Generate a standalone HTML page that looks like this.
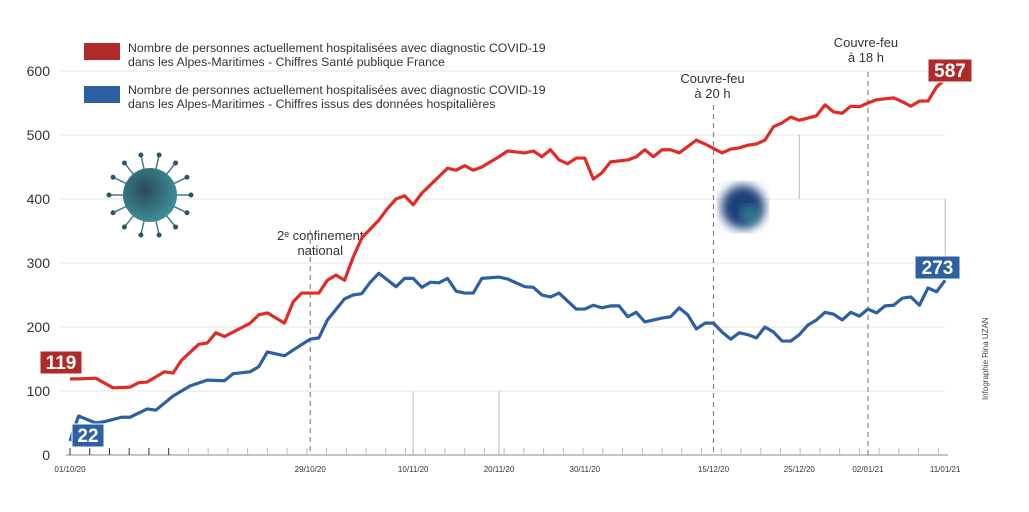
<!DOCTYPE html>
<html><head><meta charset="utf-8"><style>
body{margin:0;background:#fff;}
svg{display:block;font-family:"Liberation Sans",sans-serif;}
</style></head><body>
<svg id="chart" width="1029" height="512" viewBox="0 0 1029 512">
<defs><filter id="blur"><feGaussianBlur stdDeviation="5"/></filter>
<radialGradient id="vg" cx="40%" cy="40%" r="60%"><stop offset="0" stop-color="#2a4a5a"/><stop offset="1" stop-color="#3f8c96"/></radialGradient></defs>
<g id="grid"></g>
<g id="ylabels"></g>
<g id="xaxis"></g>
<g id="annot"></g>
<g id="virus"></g>
<circle cx="743" cy="207" r="22" fill="#1f3f7a" filter="url(#blur)"/>
<circle cx="750" cy="215" r="10" fill="#3aa0a0" opacity="0.6" filter="url(#blur)"/>
<g id="series"></g>
<g>
<rect x="84" y="43" width="36" height="17" fill="#b02a2a"/>
<text x="128" y="52" font-size="12.3" fill="#333">Nombre de personnes actuellement hospitalisées avec diagnostic COVID-19</text>
<text x="128" y="66" font-size="12.3" fill="#333">dans les Alpes-Maritimes - Chiffres Santé publique France</text>
<rect x="84" y="86" width="36" height="17" fill="#2d5fa3"/>
<text x="128" y="94" font-size="12.3" fill="#333">Nombre de personnes actuellement hospitalisées avec diagnostic COVID-19</text>
<text x="128" y="108" font-size="12.3" fill="#333">dans les Alpes-Maritimes - Chiffres issus des données hospitalières</text>
</g>
<text transform="translate(988,400) rotate(-90)" font-size="8" fill="#444">Infographie Rina UZAN</text>
</svg>
<script>
const yTicks=[0,100,200,300,400,500,600];
const xTickDays=[0,28,40,50,60,75,85,93,102];
const xTickLabels=["01/10/20","29/10/20","10/11/20","20/11/20","30/11/20","15/12/20","25/12/20","02/01/21","11/01/21"];
const redDays=[0,1,3,5,7,8,9,11,12,13,
15,16,17,18,21,22,23,25,26,27,
29,30,31,32,33,34,36,37,38,39,
40,41,42,44,45,46,47,48,49,50,
51,53,54,55,56,57,58,59,60,61,
62,63,65,66,67,68,69,70,71,73,
74,76,77,78,79,80,81,82,83,84,
85,87,88,89,90,91,92,93,94,96,
97,98,99,100,101,102];
const redVals=[119,119,120,105,106,113,114,130,128,148,
173,175,191,185,206,219,222,206,239,253,
253,273,281,273,309,339,367,385,400,405,
391,409,422,448,445,452,445,450,458,466,
475,472,475,466,477,461,455,464,464,431,
441,458,461,466,477,466,477,477,472,492,
486,472,478,480,484,486,492,513,519,528,
523,530,547,536,534,545,544,550,555,558,
552,545,553,553,575,587];
const blueDays=[0,1,3,4,6,7,9,10,12,14,
16,18,19,21,22,23,25,26,28,29,
30,32,33,34,35,36,38,39,40,41,
42,43,44,45,46,47,48,50,51,53,
54,55,56,57,59,60,61,62,63,64,
65,66,67,69,70,71,72,73,74,75,
76,77,78,79,80,81,82,83,84,85,
86,87,88,89,90,91,92,93,94,95,
96,97,98,99,100,101,102];
const blueVals=[22,61,50,52,59,59,72,70,92,108,
117,116,127,130,138,161,155,164,181,183,
211,244,250,252,270,284,263,276,276,262,
270,269,276,256,253,253,276,278,275,263,
262,250,247,253,228,228,234,230,233,233,
216,223,208,214,216,230,219,197,206,206,
192,181,191,188,183,200,192,178,178,188,
203,211,223,220,211,223,217,228,222,233,
234,245,247,234,261,255,273];
const X=d=>70+d*8.58, Y=v=>455-v*0.64;
const NS="http://www.w3.org/2000/svg";
function mk(tag,attrs,parent,text){const e=document.createElementNS(NS,tag);for(const k in attrs)e.setAttribute(k,attrs[k]);if(text!==undefined)e.textContent=text;parent.appendChild(e);return e;}
const grid=document.getElementById('grid'),yl=document.getElementById('ylabels'),xa=document.getElementById('xaxis'),an=document.getElementById('annot'),se=document.getElementById('series');
yTicks.forEach(v=>{
  if(v>0){const l=mk('line',{x1:60,x2:945,y1:Y(v),y2:Y(v),stroke:'#e6e6e6','stroke-width':1},grid);
  
  }
  const t=mk('text',{x:50,y:Y(v)+5,'font-size':14,'text-anchor':'end',fill:'#333'},yl,String(v));
  
  
});
[[40,0,100],[50,0,100],[85,400,500],[102,300,400]].forEach(a=>{
  const l=mk('line',{x1:X(a[0]),x2:X(a[0]),y1:Y(a[2]),y2:Y(a[1]),stroke:'#bbb','stroke-width':1},grid);
  
  
});
const ax=mk('line',{x1:66,x2:948,y1:455,y2:455,stroke:'#888','stroke-width':1},xa);


for(let d=0;d<=102;d+=2.3){const tk=mk('line',{x1:X(d),x2:X(d),y1:448,y2:455,stroke:d<12?'#333':'#bbb','stroke-width':1},xa);
  
  }
xTickDays.forEach((d,i)=>{const t=mk('text',{x:X(d),y:472,'font-size':8,'text-anchor':'middle',fill:'#333'},xa,xTickLabels[i]);
  
  });
[[28,230],[75,105],[93,72]].forEach(a=>{const l=mk('line',{x1:X(a[0]),x2:X(a[0]),y1:a[1],y2:455,stroke:'#888','stroke-width':1.2,'stroke-dasharray':'5,4'},an);
  
  });
[[X(28)+10,240,'2ᵉ confinement'],[X(28)+10,255,'national'],[X(75)-1,83,'Couvre-feu'],[X(75)-1,98,'à 20 h'],[X(93)-2,47,'Couvre-feu'],[X(93)-2,62,'à 18 h']].forEach(a=>{
  const t=mk('text',{x:a[0],y:a[1],'font-size':13,'text-anchor':'middle',fill:'#333'},an,a[2]);
  
  });
const vg=document.getElementById('virus');
for(let i=0;i<14;i++){const a=i*Math.PI*2/14;const l=mk('line',{x1:150+Math.cos(a)*25,y1:195+Math.sin(a)*25,x2:150+Math.cos(a)*40,y2:195+Math.sin(a)*40,stroke:'#3c7d88','stroke-width':1.5},vg);
  
  
  const c=mk('circle',{cx:150+Math.cos(a)*41,cy:195+Math.sin(a)*41,r:2.5,fill:'#2e5560'},vg);
  
  }
const vb=mk('circle',{cx:150,cy:195,r:27,fill:'url(#vg)'},vg);


function line(days,vals,color,name){const p=mk('polyline',{points:days.map((d,i)=>X(d)+','+Y(vals[i])).join(' '),fill:'none',stroke:color,'stroke-width':3.2,'stroke-linejoin':'round'},se);
  
  }
line(redDays,redVals,'#e02b26','red-series-line');
line(blueDays,blueVals,'#2d5fa3','blue-series-line');
function badge(x,y,w,col,txt,name){const g=mk('g',{},se);
  
  
  mk('rect',{x:x,y:y,width:w,height:23,fill:col,stroke:'#fff','stroke-width':1},g);
  mk('text',{x:x+w/2,y:y+18,'font-size':19,'font-weight':'bold','text-anchor':'middle',fill:'#fff'},g,txt);}
badge(40,351,42,'#b02a2a',String(redVals[0]),'red-start-value');
badge(72,424,32,'#2d5fa3',String(blueVals[0]),'blue-start-value');
badge(928,59,44,'#b02a2a',String(redVals[redVals.length-1]),'red-end-value');
badge(915,256,45,'#2d5fa3',String(blueVals[blueVals.length-1]),'blue-end-value');
</script>
</body></html>
